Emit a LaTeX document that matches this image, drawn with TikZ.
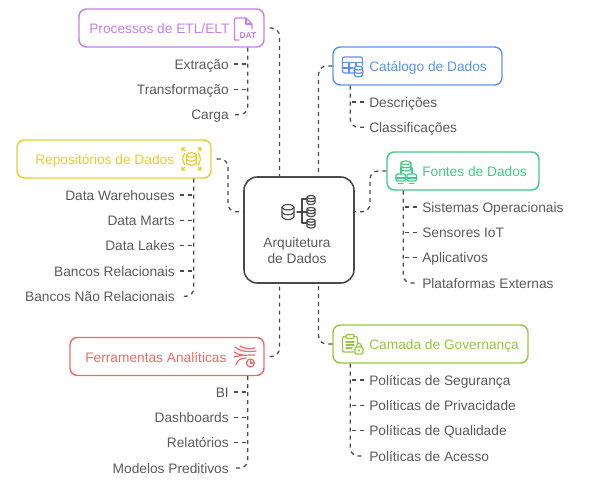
\documentclass[tikz,border=0pt]{standalone}
\usepackage{fontspec}
\setmainfont{Liberation Sans}
\usepackage{tikz}
\usetikzlibrary{positioning}
\definecolor{ink}{HTML}{4A4A4A}
\definecolor{leafgray}{HTML}{5A5A5A}
\definecolor{etlpurple}{HTML}{C77DEB}
\definecolor{repoyellow}{HTML}{E8CE2D}
\definecolor{catblue}{HTML}{5B93EE}
\definecolor{srcgreen}{HTML}{3FCB89}
\definecolor{toolred}{HTML}{EE6A6A}
\definecolor{govgreen}{HTML}{96C63F}
\tikzstyle{link} = [ink, line width=0.95pt, dash pattern=on 3pt off 3pt]
\tikzstyle{elbow} = [link, rounded corners=6pt]
\tikzstyle{box} = [rectangle, draw=#1, line width=1.1pt, rounded corners=5.5pt, minimum height=28.5pt]
\tikzstyle{title} = [text=#1, font=\fontsize{10.3}{12.5}\selectfont, inner sep=0pt, text height=9pt, text depth=1.2pt]
\tikzstyle{leaf} = [text=leafgray, font=\fontsize{10.3}{12.5}\selectfont, inner sep=3.75pt, text height=9pt, text depth=1.2pt]
\tikzstyle{leafl} = [leaf, anchor=east]
\tikzstyle{leafr} = [leaf, anchor=west]
\tikzstyle{icon} = [line width=0.9pt, line cap=round, line join=round]
\tikzset{
  cyl/.pic={
    \draw [fill=white] (-1,-.8) -- (-1,.8) arc (180:0:1 and .45) -- (1,-.8) arc (0:-180:1 and .45) -- cycle;
    \draw (-1,-.8) arc (180:0:1 and .45);
    \draw (-1,0) arc (180:0:1 and .45);
  }
}
\begin{document}
\begin{tikzpicture}[x=0.75pt, y=-0.75pt]
\useasboundingbox (0,0) rectangle (590,484);

\node (center) [box=ink, minimum width=82.5pt, minimum height=79.5pt, rounded corners=10pt, line width=1.2pt] at (299,230) {};
\node (centerT) [text=leafgray, font=\fontsize{10.3}{12.5}\selectfont, align=center, inner sep=0pt] at (297,250.5) {Arquitetura\\de Dados};

\node (proc) [box=etlpurple, minimum width=138.75pt] at (171.5,28) {};
\node (procT) [title=etlpurple, anchor=west] at (89,28) {Processos de ETL/ELT};
\node (repo) [box=repoyellow, minimum width=145.5pt] at (114,159) {};
\node (repoT) [title=repoyellow, anchor=west] at (35,159) {Repositórios de Dados};
\node (tool) [box=toolred, minimum width=145.5pt] at (167,356.5) {};
\node (toolT) [title=toolred, anchor=west] at (85,357) {Ferramentas Analíticas};
\node (cat) [box=catblue, minimum width=126.75pt] at (417.5,66) {};
\node (catT) [title=catblue, anchor=west] at (369,66) {Catálogo de Dados};
\node (src) [box=srcgreen, minimum width=114pt] at (463,171) {};
\node (srcT) [title=srcgreen, anchor=west] at (422,171) {Fontes de Dados};
\node (gov) [box=govgreen, minimum width=146.25pt] at (430.5,344) {};
\node (govT) [title=govgreen, anchor=west] at (369,344) {Camada de Governança};

\node (extr) [leafl] at (234,64) {Extração};
\node (transf) [below=19pt of extr.east, leafl] {Transformação};
\node (carga) [below=19pt of transf.east, leafl] {Carga};

\node (dw) [leafl] at (180,195) {Data Warehouses};
\node (marts) [below=19pt of dw.east, leafl] {Data Marts};
\node (lakes) [below=19pt of marts.east, leafl] {Data Lakes};
\node (rel) [below=19pt of lakes.east, leafl] {Bancos Relacionais};
\node (nrel) [below=19pt of rel.east, leafl] {Bancos Não Relacionais};

\node (bi) [leafl] at (234,392) {BI};
\node (dash) [below=19pt of bi.east, leafl] {Dashboards};
\node (relat) [below=19pt of dash.east, leafl] {Relatórios};
\node (model) [below=19pt of relat.east, leafl] {Modelos Preditivos};

\node (desc) [leafr] at (364,102) {Descrições};
\node (class) [below=19pt of desc.west, leafr] {Classificações};

\node (sis) [leafr] at (417,207) {Sistemas Operacionais};
\node (iot) [below=19pt of sis.west, leafr] {Sensores IoT};
\node (apps) [below=19pt of iot.west, leafr] {Aplicativos};
\node (ext) [below=19pt of apps.west, leafr] {Plataformas Externas};

\node (seg) [leafr] at (364,380) {Políticas de Segurança};
\node (priv) [below=19pt of seg.west, leafr] {Políticas de Privacidade};
\node (qual) [below=19pt of priv.west, leafr] {Políticas de Qualidade};
\node (acc) [below=19pt of qual.west, leafr] {Políticas de Acesso};

\coordinate (proctrunk) at ([xshift=-12.75pt]proc.south east);
\coordinate (repotrunk) at ([xshift=-13.5pt]repo.south east);
\coordinate (tooltrunk) at ([xshift=-12.75pt]tool.south east);
\coordinate (cattrunk) at ([xshift=13.5pt]cat.south west);
\coordinate (srctrunk) at ([xshift=12.75pt]src.south west);
\coordinate (govtrunk) at ([xshift=13.5pt]gov.south west);
\coordinate (repobend) at (228,185);
\coordinate (srcbend) at (370,190);

% main branches
\draw [elbow, shorten <=3.75pt] (proc.east) -| (center.110);
\draw [elbow, shorten <=3.75pt] (tool.east) -| (center.250);
\draw [elbow] (cat.west) -| (center.70);
\draw [elbow] (gov.west) -| (center.290);
\draw [elbow, shorten <=3.75pt] (repo.east) -| (repobend) |- (center.162);
\draw [elbow] (src.west) -| (srcbend) |- (center.18);

% leaves
\draw [elbow] (proctrunk) |- (carga.east);
\draw [link] (extr.east) -- (extr.east -| proctrunk);
\draw [link] (transf.east) -- (transf.east -| proctrunk);

\draw [elbow] (repotrunk) |- (nrel.east);
\draw [link] (dw.east) -- (dw.east -| repotrunk);
\draw [link] (marts.east) -- (marts.east -| repotrunk);
\draw [link] (lakes.east) -- (lakes.east -| repotrunk);
\draw [link] (rel.east) -- (rel.east -| repotrunk);

\draw [elbow] (tooltrunk) |- (model.east);
\draw [link] (bi.east) -- (bi.east -| tooltrunk);
\draw [link] (dash.east) -- (dash.east -| tooltrunk);
\draw [link] (relat.east) -- (relat.east -| tooltrunk);

\draw [elbow] (cattrunk) |- (class.west);
\draw [link] (desc.west) -- (desc.west -| cattrunk);

\draw [elbow] (srctrunk) |- (ext.west);
\draw [link] (sis.west) -- (sis.west -| srctrunk);
\draw [link] (iot.west) -- (iot.west -| srctrunk);
\draw [link] (apps.west) -- (apps.west -| srctrunk);

\draw [elbow] (govtrunk) |- (acc.west);
\draw [link] (seg.west) -- (seg.west -| govtrunk);
\draw [link] (priv.west) -- (priv.west -| govtrunk);
\draw [link] (qual.west) -- (qual.west -| govtrunk);

% icons
\begin{scope}[icon, draw=ink]
\pic at (288,212) [xscale=6, yscale=6] {cyl};
\pic at (311,200) [xscale=4, yscale=3.6] {cyl};
\pic at (311,212) [xscale=4, yscale=3.6] {cyl};
\pic at (311,223.5) [xscale=4, yscale=3.6] {cyl};
\draw (297,212) -- (307,212);
\draw (307,199) -- (302,199) -- (302,223) -- (307,223);
\end{scope}

\begin{scope}[icon, draw=etlpurple]
\draw (239,40) -- (234.5,40) -- (234.5,20) [rounded corners=1pt] -- (234.5,18) -- (246,18) -- (252,24) -- (252,29);
\draw (246,18) -- (246,24) -- (252,24);
\node (datT) [text=etlpurple, font=\bfseries\fontsize{6.4}{7}\selectfont, inner sep=0pt] at (248,35.5) {DAT};
\end{scope}

\begin{scope}[icon, draw=repoyellow]
\pic at (191.5,159) [xscale=5, yscale=5] {cyl};
\draw (185,153) .. controls (182,156) and (182,162) .. (185,165);
\draw (198,153) .. controls (201,156) and (201,162) .. (198,165);
\draw (185,151) -- (182,148) (182,151) -- (182,148) -- (185,148);
\draw (198,151) -- (201,148) (201,151) -- (201,148) -- (198,148);
\draw (185,167) -- (182,170) (182,167) -- (182,170) -- (185,170);
\draw (198,167) -- (201,170) (201,167) -- (201,170) -- (198,170);
\end{scope}

\begin{scope}[icon, draw=toolred]
\draw (235,347) .. controls (241,352) and (248,352) .. (256,351);
\draw (240,346) .. controls (245,349) and (250,349) .. (255,348);
\draw (234,357) .. controls (241,355) and (248,355) .. (255,355);
\draw (236,365) .. controls (237,360) and (241,358) .. (246,358);
\draw (234,352) .. controls (237,354) and (240,355) .. (243,355);
\draw [fill=white] (250.5,363) circle (4);
\draw (250.5,360.5) -- (250.5,363) -- (253,363);
\end{scope}

\begin{scope}[icon, draw=catblue]
\draw [rounded corners=1.5pt] (355,73) -- (342.5,73) -- (342.5,57) -- (362.5,57) -- (362.5,65);
\draw (342.5,62.5) -- (362.5,62.5) (342.5,68) -- (353,68) (349,62.5) -- (349,73) (356,62.5) -- (356,68);
\pic at (358.5,71.5) [xscale=4.3, yscale=4.3] {cyl};
\end{scope}

\begin{scope}[icon, draw=srcgreen]
\pic at (406,166) [xscale=5, yscale=4] {cyl};
\draw (401,173) -- (401,168) -- (402,168) (411,168) -- (412,168) -- (412,173);
\draw [rounded corners=1pt] (396,174) rectangle (405.5,181);
\draw [rounded corners=1pt] (407,174) rectangle (416.5,181);
\draw (396,178) -- (405.5,178) (407,178) -- (416.5,178);
\draw (398.5,183.5) -- (403,183.5) (409.5,183.5) -- (414,183.5);
\end{scope}

\begin{scope}[icon, draw=govgreen]
\draw [rounded corners=1pt] (354,352) -- (342.5,352) -- (342.5,336.5) -- (346,336.5) (354,336.5) -- (357.5,336.5) -- (357.5,343);
\draw [rounded corners=1pt] (346,338.5) -- (346,334.5) -- (354,334.5) -- (354,338.5) -- cycle;
\draw (346,342) -- (354,342) (346,345) -- (354,345) (346,348) -- (352,348);
\draw [rounded corners=1pt, fill=white] (355,347) rectangle (363,354);
\draw (356.5,347) .. controls (356.5,342) and (361.5,342) .. (361.5,347);
\draw (359,350) -- (359,351);
\end{scope}
\end{tikzpicture}
\end{document}
